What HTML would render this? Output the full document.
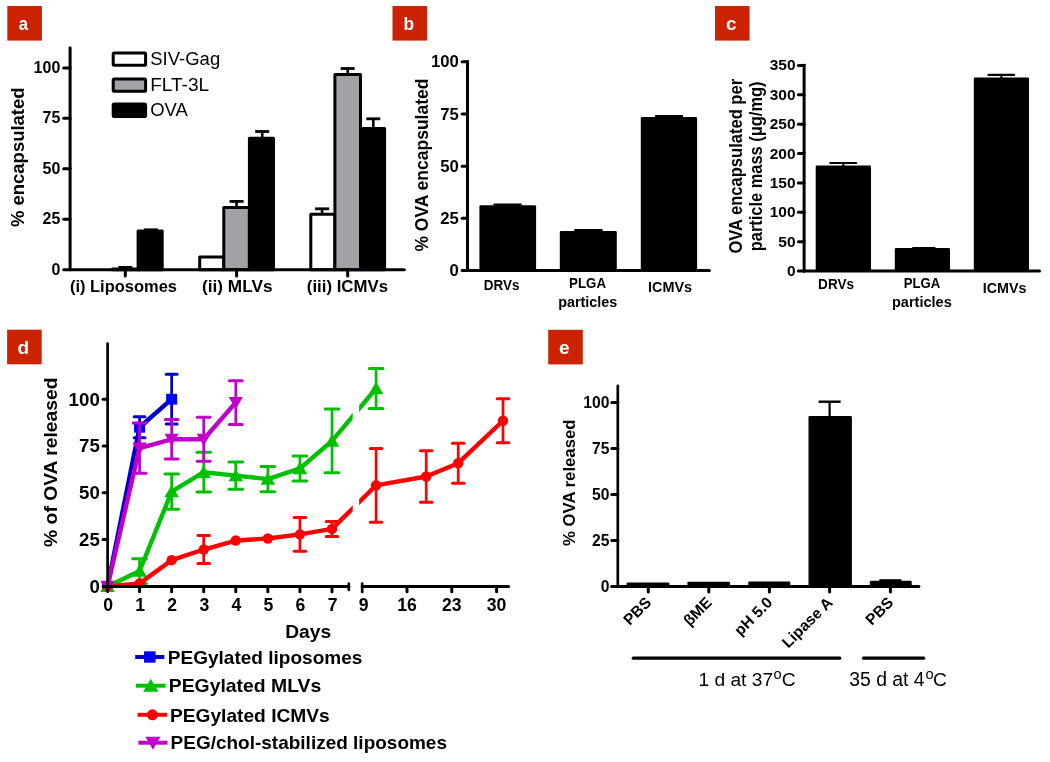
<!DOCTYPE html>
<html><head><meta charset="utf-8"><style>
html,body{margin:0;padding:0;background:#fff;}
svg{display:block;font-family:"Liberation Sans",sans-serif;will-change:transform;}
</style></head><body>
<svg width="1050" height="762" viewBox="0 0 1050 762">
<rect width="1050" height="762" fill="#fff"/>
<rect x="7.3" y="6" width="34.6" height="34.6" fill="#cd2200"/>
<text x="23.5" y="30" font-size="19" font-weight="bold" text-anchor="middle" textLength="9.3" lengthAdjust="spacingAndGlyphs" fill="#fff">a</text>
<rect x="392.5" y="6" width="34.6" height="34.6" fill="#cd2200"/>
<text x="408.7" y="30" font-size="19" font-weight="bold" text-anchor="middle" textLength="10.56" lengthAdjust="spacingAndGlyphs" fill="#fff">b</text>
<rect x="715" y="6" width="34.6" height="34.6" fill="#cd2200"/>
<text x="731.2" y="30" font-size="19" font-weight="bold" text-anchor="middle" textLength="10.56" lengthAdjust="spacingAndGlyphs" fill="#fff">c</text>
<rect x="7.1" y="329.7" width="34.6" height="34.6" fill="#cd2200"/>
<text x="23.3" y="353.7" font-size="19" font-weight="bold" text-anchor="middle" textLength="11.61" lengthAdjust="spacingAndGlyphs" fill="#fff">d</text>
<rect x="548.2" y="329.8" width="34.6" height="34.6" fill="#cd2200"/>
<text x="564.4" y="353.8" font-size="19" font-weight="bold" text-anchor="middle" textLength="10.56" lengthAdjust="spacingAndGlyphs" fill="#fff">e</text>
<rect x="88.4" y="269.7" width="24.1" height="0" fill="#fff" stroke="#000" stroke-width="3" stroke-linejoin="round"/>
<line x1="125.3" y1="267.4" x2="125.3" y2="269.4" stroke="#000" stroke-width="2.6" stroke-linecap="butt"/>
<line x1="118.3" y1="267.4" x2="132.3" y2="267.4" stroke="#000" stroke-width="2.8" stroke-linecap="butt"/>
<rect x="112.5" y="268.9" width="25.6" height="0.8" fill="#a2a2a6" stroke="#000" stroke-width="3" stroke-linejoin="round"/>
<line x1="150.9" y1="229.8" x2="150.9" y2="231.4" stroke="#000" stroke-width="2.6" stroke-linecap="butt"/>
<line x1="143.9" y1="229.8" x2="157.9" y2="229.8" stroke="#000" stroke-width="2.8" stroke-linecap="butt"/>
<rect x="138.1" y="230.9" width="24.1" height="38.8" fill="#000" stroke="#000" stroke-width="3" stroke-linejoin="round"/>
<rect x="199.7" y="256.9" width="24.1" height="12.8" fill="#fff" stroke="#000" stroke-width="3" stroke-linejoin="round"/>
<line x1="236.6" y1="201.4" x2="236.6" y2="208.1" stroke="#000" stroke-width="2.6" stroke-linecap="butt"/>
<line x1="229.6" y1="201.4" x2="243.6" y2="201.4" stroke="#000" stroke-width="2.8" stroke-linecap="butt"/>
<rect x="223.8" y="207.6" width="25.6" height="62.1" fill="#a2a2a6" stroke="#000" stroke-width="3" stroke-linejoin="round"/>
<line x1="262.2" y1="131.5" x2="262.2" y2="138.8" stroke="#000" stroke-width="2.6" stroke-linecap="butt"/>
<line x1="255.2" y1="131.5" x2="269.2" y2="131.5" stroke="#000" stroke-width="2.8" stroke-linecap="butt"/>
<rect x="249.4" y="138.3" width="24.1" height="131.4" fill="#000" stroke="#000" stroke-width="3" stroke-linejoin="round"/>
<line x1="322.1" y1="208.8" x2="322.1" y2="214.8" stroke="#000" stroke-width="2.6" stroke-linecap="butt"/>
<line x1="315.1" y1="208.8" x2="329.1" y2="208.8" stroke="#000" stroke-width="2.8" stroke-linecap="butt"/>
<rect x="310.8" y="214.3" width="24.1" height="55.4" fill="#fff" stroke="#000" stroke-width="3" stroke-linejoin="round"/>
<line x1="347.7" y1="68.5" x2="347.7" y2="75.1" stroke="#000" stroke-width="2.6" stroke-linecap="butt"/>
<line x1="340.7" y1="68.5" x2="354.7" y2="68.5" stroke="#000" stroke-width="2.8" stroke-linecap="butt"/>
<rect x="334.9" y="74.6" width="25.6" height="195.1" fill="#a2a2a6" stroke="#000" stroke-width="3" stroke-linejoin="round"/>
<line x1="373.3" y1="118.8" x2="373.3" y2="128.9" stroke="#000" stroke-width="2.6" stroke-linecap="butt"/>
<line x1="366.3" y1="118.8" x2="380.3" y2="118.8" stroke="#000" stroke-width="2.8" stroke-linecap="butt"/>
<rect x="360.5" y="128.4" width="24.1" height="141.3" fill="#000" stroke="#000" stroke-width="3" stroke-linejoin="round"/>
<line x1="70.1" y1="47.8" x2="70.1" y2="269.7" stroke="#000" stroke-width="3" stroke-linecap="round"/>
<line x1="63.7" y1="269.7" x2="404.3" y2="269.7" stroke="#000" stroke-width="3" stroke-linecap="round"/>
<line x1="63.7" y1="219.25" x2="70.1" y2="219.25" stroke="#000" stroke-width="3" stroke-linecap="round"/>
<line x1="63.7" y1="168.8" x2="70.1" y2="168.8" stroke="#000" stroke-width="3" stroke-linecap="round"/>
<line x1="63.7" y1="118.35" x2="70.1" y2="118.35" stroke="#000" stroke-width="3" stroke-linecap="round"/>
<line x1="63.7" y1="67.9" x2="70.1" y2="67.9" stroke="#000" stroke-width="3" stroke-linecap="round"/>
<line x1="125.3" y1="269.7" x2="125.3" y2="275.9" stroke="#000" stroke-width="3" stroke-linecap="round"/>
<line x1="236.6" y1="269.7" x2="236.6" y2="275.9" stroke="#000" stroke-width="3" stroke-linecap="round"/>
<line x1="347.7" y1="269.7" x2="347.7" y2="275.9" stroke="#000" stroke-width="3" stroke-linecap="round"/>
<text x="60.3" y="274.5" font-size="17" font-weight="bold" text-anchor="end" textLength="8.9" lengthAdjust="spacingAndGlyphs">0</text>
<text x="60.3" y="224.05" font-size="17" font-weight="bold" text-anchor="end" textLength="17.8" lengthAdjust="spacingAndGlyphs">25</text>
<text x="60.3" y="173.6" font-size="17" font-weight="bold" text-anchor="end" textLength="17.8" lengthAdjust="spacingAndGlyphs">50</text>
<text x="60.3" y="123.15" font-size="17" font-weight="bold" text-anchor="end" textLength="17.8" lengthAdjust="spacingAndGlyphs">75</text>
<text x="60.3" y="72.7" font-size="17" font-weight="bold" text-anchor="end" textLength="26.7" lengthAdjust="spacingAndGlyphs">100</text>
<text x="69.9" y="292" font-size="16.3" font-weight="bold" textLength="107.1" lengthAdjust="spacingAndGlyphs">(i) Liposomes</text>
<text x="202" y="292" font-size="16.3" font-weight="bold" textLength="70.5" lengthAdjust="spacingAndGlyphs">(ii) MLVs</text>
<text x="306.8" y="292" font-size="16.3" font-weight="bold" textLength="81.2" lengthAdjust="spacingAndGlyphs">(iii) ICMVs</text>
<text x="23.8" y="227" font-size="19" font-weight="bold" textLength="139.5" lengthAdjust="spacingAndGlyphs" transform="rotate(-90 23.8 227)">% encapsulated</text>
<rect x="113.2" y="52.9" width="32.4" height="12.3" fill="#fff" stroke="#000" stroke-width="3" rx="1"/>
<text x="150.2" y="65" font-size="18" textLength="70" lengthAdjust="spacingAndGlyphs">SIV-Gag</text>
<rect x="113.2" y="78.9" width="32.4" height="12.3" fill="#a2a2a6" stroke="#000" stroke-width="3" rx="1"/>
<text x="150.2" y="91" font-size="18" textLength="59" lengthAdjust="spacingAndGlyphs">FLT-3L</text>
<rect x="113.2" y="104.1" width="32.4" height="12.3" fill="#000" stroke="#000" stroke-width="3" rx="1"/>
<text x="150.2" y="116.2" font-size="18" textLength="37.6" lengthAdjust="spacingAndGlyphs">OVA</text>
<line x1="494.5" y1="204.6" x2="520.7" y2="204.6" stroke="#000" stroke-width="2.2" stroke-linecap="round"/>
<line x1="507.75" y1="204.6" x2="507.75" y2="207.2" stroke="#000" stroke-width="2" stroke-linecap="butt"/>
<rect x="479.4" y="205.2" width="56.7" height="65.3" fill="#000" rx="1.2"/>
<line x1="575.1" y1="230.1" x2="601.7" y2="230.1" stroke="#000" stroke-width="2.2" stroke-linecap="round"/>
<line x1="588.3" y1="230.1" x2="588.3" y2="233.1" stroke="#000" stroke-width="2" stroke-linecap="butt"/>
<rect x="559.8" y="231.1" width="57" height="39.4" fill="#000" rx="1.2"/>
<line x1="655.9" y1="116.1" x2="682.2" y2="116.1" stroke="#000" stroke-width="2.2" stroke-linecap="round"/>
<line x1="668.95" y1="116.1" x2="668.95" y2="119.1" stroke="#000" stroke-width="2" stroke-linecap="butt"/>
<rect x="640.8" y="117.1" width="56.3" height="153.4" fill="#000" rx="1.2"/>
<line x1="467.5" y1="61.8" x2="467.5" y2="270.5" stroke="#000" stroke-width="3" stroke-linecap="square"/>
<line x1="462.1" y1="270.5" x2="709.4" y2="270.5" stroke="#000" stroke-width="3" stroke-linecap="round"/>
<line x1="462.1" y1="218.32" x2="467.5" y2="218.32" stroke="#000" stroke-width="3" stroke-linecap="round"/>
<line x1="462.1" y1="166.15" x2="467.5" y2="166.15" stroke="#000" stroke-width="3" stroke-linecap="round"/>
<line x1="462.1" y1="113.98" x2="467.5" y2="113.98" stroke="#000" stroke-width="3" stroke-linecap="round"/>
<line x1="462.1" y1="61.8" x2="467.5" y2="61.8" stroke="#000" stroke-width="3" stroke-linecap="round"/>
<text x="458.8" y="276.1" font-size="17.3" font-weight="bold" text-anchor="end" textLength="9.3" lengthAdjust="spacingAndGlyphs">0</text>
<text x="458.8" y="223.92" font-size="17.3" font-weight="bold" text-anchor="end" textLength="18.6" lengthAdjust="spacingAndGlyphs">25</text>
<text x="458.8" y="171.75" font-size="17.3" font-weight="bold" text-anchor="end" textLength="18.6" lengthAdjust="spacingAndGlyphs">50</text>
<text x="458.8" y="119.58" font-size="17.3" font-weight="bold" text-anchor="end" textLength="18.6" lengthAdjust="spacingAndGlyphs">75</text>
<text x="458.8" y="67.4" font-size="17.3" font-weight="bold" text-anchor="end" textLength="27.9" lengthAdjust="spacingAndGlyphs">100</text>
<text x="483.8" y="289.6" font-size="15.4" font-weight="bold" textLength="35.6" lengthAdjust="spacingAndGlyphs">DRVs</text>
<text x="569.1" y="287.7" font-size="15.4" font-weight="bold" textLength="36.9" lengthAdjust="spacingAndGlyphs">PLGA</text>
<text x="558.2" y="307" font-size="15.4" font-weight="bold" textLength="59.1" lengthAdjust="spacingAndGlyphs">particles</text>
<text x="648.1" y="292.3" font-size="15.4" font-weight="bold" textLength="44" lengthAdjust="spacingAndGlyphs">ICMVs</text>
<text x="428.4" y="251.6" font-size="18.5" font-weight="bold" textLength="173" lengthAdjust="spacingAndGlyphs" transform="rotate(-90 428.4 251.6)">% OVA encapsulated</text>
<line x1="830.3" y1="163" x2="856.2" y2="163" stroke="#000" stroke-width="2.2" stroke-linecap="round"/>
<line x1="843.35" y1="163" x2="843.35" y2="167.5" stroke="#000" stroke-width="2" stroke-linecap="butt"/>
<rect x="815.7" y="165.5" width="55.3" height="105.6" fill="#000" rx="1.2"/>
<line x1="913.1" y1="248.1" x2="934.6" y2="248.1" stroke="#000" stroke-width="2.2" stroke-linecap="round"/>
<line x1="922.4" y1="248.1" x2="922.4" y2="250.1" stroke="#000" stroke-width="2" stroke-linecap="butt"/>
<rect x="894.8" y="248.1" width="55.2" height="23" fill="#000" rx="1.2"/>
<line x1="988.5" y1="74.9" x2="1014.1" y2="74.9" stroke="#000" stroke-width="2.2" stroke-linecap="round"/>
<line x1="1001.4" y1="74.9" x2="1001.4" y2="79.4" stroke="#000" stroke-width="2" stroke-linecap="butt"/>
<rect x="973.8" y="77.4" width="55.2" height="193.7" fill="#000" rx="1.2"/>
<line x1="804.1" y1="65.4" x2="804.1" y2="271.1" stroke="#000" stroke-width="3" stroke-linecap="square"/>
<line x1="798.4" y1="271.1" x2="1039.5" y2="271.1" stroke="#000" stroke-width="3" stroke-linecap="round"/>
<line x1="798.4" y1="241.71" x2="804.1" y2="241.71" stroke="#000" stroke-width="3" stroke-linecap="round"/>
<line x1="798.4" y1="212.33" x2="804.1" y2="212.33" stroke="#000" stroke-width="3" stroke-linecap="round"/>
<line x1="798.4" y1="182.94" x2="804.1" y2="182.94" stroke="#000" stroke-width="3" stroke-linecap="round"/>
<line x1="798.4" y1="153.56" x2="804.1" y2="153.56" stroke="#000" stroke-width="3" stroke-linecap="round"/>
<line x1="798.4" y1="124.17" x2="804.1" y2="124.17" stroke="#000" stroke-width="3" stroke-linecap="round"/>
<line x1="798.4" y1="94.79" x2="804.1" y2="94.79" stroke="#000" stroke-width="3" stroke-linecap="round"/>
<line x1="798.4" y1="65.4" x2="804.1" y2="65.4" stroke="#000" stroke-width="3" stroke-linecap="round"/>
<text x="795.5" y="276.1" font-size="15.3" font-weight="bold" text-anchor="end" textLength="8.6" lengthAdjust="spacingAndGlyphs">0</text>
<text x="795.5" y="246.71" font-size="15.3" font-weight="bold" text-anchor="end" textLength="17.2" lengthAdjust="spacingAndGlyphs">50</text>
<text x="795.5" y="217.33" font-size="15.3" font-weight="bold" text-anchor="end" textLength="25.8" lengthAdjust="spacingAndGlyphs">100</text>
<text x="795.5" y="187.94" font-size="15.3" font-weight="bold" text-anchor="end" textLength="25.8" lengthAdjust="spacingAndGlyphs">150</text>
<text x="795.5" y="158.56" font-size="15.3" font-weight="bold" text-anchor="end" textLength="25.8" lengthAdjust="spacingAndGlyphs">200</text>
<text x="795.5" y="129.17" font-size="15.3" font-weight="bold" text-anchor="end" textLength="25.8" lengthAdjust="spacingAndGlyphs">250</text>
<text x="795.5" y="99.79" font-size="15.3" font-weight="bold" text-anchor="end" textLength="25.8" lengthAdjust="spacingAndGlyphs">300</text>
<text x="795.5" y="70.4" font-size="15.3" font-weight="bold" text-anchor="end" textLength="25.8" lengthAdjust="spacingAndGlyphs">350</text>
<text x="818.1" y="289.3" font-size="15.4" font-weight="bold" textLength="35.9" lengthAdjust="spacingAndGlyphs">DRVs</text>
<text x="903.7" y="288.1" font-size="15.4" font-weight="bold" textLength="36.6" lengthAdjust="spacingAndGlyphs">PLGA</text>
<text x="891.9" y="307.1" font-size="15.4" font-weight="bold" textLength="59.9" lengthAdjust="spacingAndGlyphs">particles</text>
<text x="982.7" y="292.9" font-size="15.4" font-weight="bold" textLength="43.8" lengthAdjust="spacingAndGlyphs">ICMVs</text>
<text x="741.6" y="253.6" font-size="17.5" font-weight="bold" textLength="174.7" lengthAdjust="spacingAndGlyphs" transform="rotate(-90 741.6 253.6)">OVA encapsulated per</text>
<text x="761.6" y="251.2" font-size="17.5" font-weight="bold" textLength="169.7" lengthAdjust="spacingAndGlyphs" transform="rotate(-90 761.6 251.2)">particle mass (&#956;g/mg)</text>
<defs><clipPath id="gapclip"><rect x="0" y="300" width="352.7" height="400"/><rect x="359.1" y="300" width="300" height="400"/></clipPath></defs>
<line x1="139.57" y1="416.8" x2="139.57" y2="437.76" stroke="#0000c8" stroke-width="2.7" stroke-linecap="butt"/>
<line x1="134.17" y1="416.8" x2="144.97" y2="416.8" stroke="#0000c8" stroke-width="3" stroke-linecap="round"/>
<line x1="134.17" y1="437.76" x2="144.97" y2="437.76" stroke="#0000c8" stroke-width="3" stroke-linecap="round"/>
<line x1="171.64" y1="374.3" x2="171.64" y2="424.1" stroke="#0000c8" stroke-width="2.7" stroke-linecap="butt"/>
<line x1="166.24" y1="374.3" x2="177.04" y2="374.3" stroke="#0000c8" stroke-width="3" stroke-linecap="round"/>
<line x1="166.24" y1="424.1" x2="177.04" y2="424.1" stroke="#0000c8" stroke-width="3" stroke-linecap="round"/>
<polyline points="107.5,586.4 139.57,427.28 171.64,399.2" fill="none" stroke="#0000c8" stroke-width="4.4" stroke-linejoin="round" clip-path="url(#gapclip)"/>
<rect x="102" y="581" width="11" height="10.8" fill="#0000ff"/>
<rect x="134.07" y="421.88" width="11" height="10.8" fill="#0000ff"/>
<rect x="166.14" y="393.8" width="11" height="10.8" fill="#0000ff"/>
<line x1="139.57" y1="558.69" x2="139.57" y2="583.4" stroke="#00c000" stroke-width="2.7" stroke-linecap="butt"/>
<line x1="132.77" y1="558.69" x2="146.37" y2="558.69" stroke="#00c000" stroke-width="3" stroke-linecap="round"/>
<line x1="132.77" y1="583.4" x2="146.37" y2="583.4" stroke="#00c000" stroke-width="3" stroke-linecap="round"/>
<line x1="171.64" y1="474.08" x2="171.64" y2="509.27" stroke="#00c000" stroke-width="2.7" stroke-linecap="butt"/>
<line x1="164.84" y1="474.08" x2="178.44" y2="474.08" stroke="#00c000" stroke-width="3" stroke-linecap="round"/>
<line x1="164.84" y1="509.27" x2="178.44" y2="509.27" stroke="#00c000" stroke-width="3" stroke-linecap="round"/>
<line x1="203.71" y1="452.36" x2="203.71" y2="492.05" stroke="#00c000" stroke-width="2.7" stroke-linecap="butt"/>
<line x1="196.91" y1="452.36" x2="210.51" y2="452.36" stroke="#00c000" stroke-width="3" stroke-linecap="round"/>
<line x1="196.91" y1="492.05" x2="210.51" y2="492.05" stroke="#00c000" stroke-width="3" stroke-linecap="round"/>
<line x1="235.78" y1="461.91" x2="235.78" y2="489.24" stroke="#00c000" stroke-width="2.7" stroke-linecap="butt"/>
<line x1="228.98" y1="461.91" x2="242.58" y2="461.91" stroke="#00c000" stroke-width="3" stroke-linecap="round"/>
<line x1="228.98" y1="489.24" x2="242.58" y2="489.24" stroke="#00c000" stroke-width="3" stroke-linecap="round"/>
<line x1="267.85" y1="466.4" x2="267.85" y2="491.86" stroke="#00c000" stroke-width="2.7" stroke-linecap="butt"/>
<line x1="261.05" y1="466.4" x2="274.65" y2="466.4" stroke="#00c000" stroke-width="3" stroke-linecap="round"/>
<line x1="261.05" y1="491.86" x2="274.65" y2="491.86" stroke="#00c000" stroke-width="3" stroke-linecap="round"/>
<line x1="299.92" y1="455.92" x2="299.92" y2="481.01" stroke="#00c000" stroke-width="2.7" stroke-linecap="butt"/>
<line x1="293.12" y1="455.92" x2="306.72" y2="455.92" stroke="#00c000" stroke-width="3" stroke-linecap="round"/>
<line x1="293.12" y1="481.01" x2="306.72" y2="481.01" stroke="#00c000" stroke-width="3" stroke-linecap="round"/>
<line x1="331.99" y1="409.12" x2="331.99" y2="472.77" stroke="#00c000" stroke-width="2.7" stroke-linecap="butt"/>
<line x1="325.19" y1="409.12" x2="338.79" y2="409.12" stroke="#00c000" stroke-width="3" stroke-linecap="round"/>
<line x1="325.19" y1="472.77" x2="338.79" y2="472.77" stroke="#00c000" stroke-width="3" stroke-linecap="round"/>
<line x1="376.09" y1="368.5" x2="376.09" y2="408.56" stroke="#00c000" stroke-width="2.7" stroke-linecap="butt"/>
<line x1="369.29" y1="368.5" x2="382.89" y2="368.5" stroke="#00c000" stroke-width="3" stroke-linecap="round"/>
<line x1="369.29" y1="408.56" x2="382.89" y2="408.56" stroke="#00c000" stroke-width="3" stroke-linecap="round"/>
<polyline points="107.5,586.4 139.57,571.05 171.64,491.68 203.71,472.21 235.78,475.58 267.85,479.13 299.92,468.46 331.99,440.95 376.09,388.53" fill="none" stroke="#00c000" stroke-width="4.4" stroke-linejoin="round" clip-path="url(#gapclip)"/>
<polygon points="107.5,579.7 114.8,592.1 100.2,592.1" fill="#00c000"/>
<polygon points="139.57,564.35 146.87,576.74 132.27,576.74" fill="#00c000"/>
<polygon points="171.64,484.98 178.94,497.37 164.34,497.37" fill="#00c000"/>
<polygon points="203.71,465.51 211.01,477.9 196.41,477.9" fill="#00c000"/>
<polygon points="235.78,468.88 243.08,481.27 228.48,481.27" fill="#00c000"/>
<polygon points="267.85,472.43 275.15,484.83 260.55,484.83" fill="#00c000"/>
<polygon points="299.92,461.76 307.22,474.16 292.62,474.16" fill="#00c000"/>
<polygon points="331.99,434.25 339.29,446.64 324.69,446.64" fill="#00c000"/>
<polygon points="376.09,381.83 383.39,394.22 368.79,394.22" fill="#00c000"/>
<line x1="203.71" y1="535.48" x2="203.71" y2="563.56" stroke="#ff0000" stroke-width="2.7" stroke-linecap="butt"/>
<line x1="197.96" y1="535.48" x2="209.46" y2="535.48" stroke="#ff0000" stroke-width="3" stroke-linecap="round"/>
<line x1="197.96" y1="563.56" x2="209.46" y2="563.56" stroke="#ff0000" stroke-width="3" stroke-linecap="round"/>
<line x1="299.92" y1="517.51" x2="299.92" y2="551.21" stroke="#ff0000" stroke-width="2.7" stroke-linecap="butt"/>
<line x1="294.17" y1="517.51" x2="305.67" y2="517.51" stroke="#ff0000" stroke-width="3" stroke-linecap="round"/>
<line x1="294.17" y1="551.21" x2="305.67" y2="551.21" stroke="#ff0000" stroke-width="3" stroke-linecap="round"/>
<line x1="331.99" y1="521.44" x2="331.99" y2="536.42" stroke="#ff0000" stroke-width="2.7" stroke-linecap="butt"/>
<line x1="326.24" y1="521.44" x2="337.74" y2="521.44" stroke="#ff0000" stroke-width="3" stroke-linecap="round"/>
<line x1="326.24" y1="536.42" x2="337.74" y2="536.42" stroke="#ff0000" stroke-width="3" stroke-linecap="round"/>
<line x1="376.09" y1="448.43" x2="376.09" y2="522.19" stroke="#ff0000" stroke-width="2.7" stroke-linecap="butt"/>
<line x1="370.34" y1="448.43" x2="381.84" y2="448.43" stroke="#ff0000" stroke-width="3" stroke-linecap="round"/>
<line x1="370.34" y1="522.19" x2="381.84" y2="522.19" stroke="#ff0000" stroke-width="3" stroke-linecap="round"/>
<line x1="426.2" y1="450.87" x2="426.2" y2="502.16" stroke="#ff0000" stroke-width="2.7" stroke-linecap="butt"/>
<line x1="420.45" y1="450.87" x2="431.95" y2="450.87" stroke="#ff0000" stroke-width="3" stroke-linecap="round"/>
<line x1="420.45" y1="502.16" x2="431.95" y2="502.16" stroke="#ff0000" stroke-width="3" stroke-linecap="round"/>
<line x1="458.2" y1="443.19" x2="458.2" y2="483.25" stroke="#ff0000" stroke-width="2.7" stroke-linecap="butt"/>
<line x1="452.45" y1="443.19" x2="463.95" y2="443.19" stroke="#ff0000" stroke-width="3" stroke-linecap="round"/>
<line x1="452.45" y1="483.25" x2="463.95" y2="483.25" stroke="#ff0000" stroke-width="3" stroke-linecap="round"/>
<line x1="503" y1="398.64" x2="503" y2="442.82" stroke="#ff0000" stroke-width="2.7" stroke-linecap="butt"/>
<line x1="497.25" y1="398.64" x2="508.75" y2="398.64" stroke="#ff0000" stroke-width="3" stroke-linecap="round"/>
<line x1="497.25" y1="442.82" x2="508.75" y2="442.82" stroke="#ff0000" stroke-width="3" stroke-linecap="round"/>
<polyline points="107.5,586.4 139.57,583.4 171.64,560.19 203.71,549.52 235.78,540.54 267.85,538.48 299.92,534.36 331.99,528.93 376.09,485.31 426.2,476.51 458.2,463.22 503,420.73" fill="none" stroke="#ff0000" stroke-width="4.4" stroke-linejoin="round" clip-path="url(#gapclip)"/>
<circle cx="107.5" cy="586.4" r="5.2" fill="#ff0000"/>
<circle cx="139.57" cy="583.4" r="5.2" fill="#ff0000"/>
<circle cx="171.64" cy="560.19" r="5.2" fill="#ff0000"/>
<circle cx="203.71" cy="549.52" r="5.2" fill="#ff0000"/>
<circle cx="235.78" cy="540.54" r="5.2" fill="#ff0000"/>
<circle cx="267.85" cy="538.48" r="5.2" fill="#ff0000"/>
<circle cx="299.92" cy="534.36" r="5.2" fill="#ff0000"/>
<circle cx="331.99" cy="528.93" r="5.2" fill="#ff0000"/>
<circle cx="376.09" cy="485.31" r="5.2" fill="#ff0000"/>
<circle cx="426.2" cy="476.51" r="5.2" fill="#ff0000"/>
<circle cx="458.2" cy="463.22" r="5.2" fill="#ff0000"/>
<circle cx="503" cy="420.73" r="5.2" fill="#ff0000"/>
<line x1="139.57" y1="422.97" x2="139.57" y2="473.14" stroke="#c000c8" stroke-width="2.7" stroke-linecap="butt"/>
<line x1="133.17" y1="422.97" x2="145.97" y2="422.97" stroke="#c000c8" stroke-width="3" stroke-linecap="round"/>
<line x1="133.17" y1="473.14" x2="145.97" y2="473.14" stroke="#c000c8" stroke-width="3" stroke-linecap="round"/>
<line x1="171.64" y1="419.6" x2="171.64" y2="458.92" stroke="#c000c8" stroke-width="2.7" stroke-linecap="butt"/>
<line x1="165.24" y1="419.6" x2="178.04" y2="419.6" stroke="#c000c8" stroke-width="3" stroke-linecap="round"/>
<line x1="165.24" y1="458.92" x2="178.04" y2="458.92" stroke="#c000c8" stroke-width="3" stroke-linecap="round"/>
<line x1="203.71" y1="417.17" x2="203.71" y2="461.35" stroke="#c000c8" stroke-width="2.7" stroke-linecap="butt"/>
<line x1="197.31" y1="417.17" x2="210.11" y2="417.17" stroke="#c000c8" stroke-width="3" stroke-linecap="round"/>
<line x1="197.31" y1="461.35" x2="210.11" y2="461.35" stroke="#c000c8" stroke-width="3" stroke-linecap="round"/>
<line x1="235.78" y1="380.67" x2="235.78" y2="424.47" stroke="#c000c8" stroke-width="2.7" stroke-linecap="butt"/>
<line x1="229.38" y1="380.67" x2="242.18" y2="380.67" stroke="#c000c8" stroke-width="3" stroke-linecap="round"/>
<line x1="229.38" y1="424.47" x2="242.18" y2="424.47" stroke="#c000c8" stroke-width="3" stroke-linecap="round"/>
<polyline points="107.5,586.4 139.57,448.06 171.64,439.26 203.71,439.26 235.78,402.57" fill="none" stroke="#c000c8" stroke-width="4.4" stroke-linejoin="round" clip-path="url(#gapclip)"/>
<polygon points="100.4,580.79 114.6,580.79 107.5,593" fill="#c000c8"/>
<polygon points="132.47,442.45 146.67,442.45 139.57,454.66" fill="#c000c8"/>
<polygon points="164.54,433.65 178.74,433.65 171.64,445.86" fill="#c000c8"/>
<polygon points="196.61,433.65 210.81,433.65 203.71,445.86" fill="#c000c8"/>
<polygon points="228.68,396.96 242.88,396.96 235.78,409.17" fill="#c000c8"/>
<line x1="107.6" y1="343.6" x2="107.6" y2="591.8" stroke="#000" stroke-width="2.7" stroke-linecap="round"/>
<line x1="103.1" y1="586.4" x2="348.8" y2="586.4" stroke="#000" stroke-width="3" stroke-linecap="round"/>
<line x1="362.2" y1="586.4" x2="508.5" y2="586.4" stroke="#000" stroke-width="3" stroke-linecap="round"/>
<line x1="348.8" y1="583.6" x2="348.8" y2="589.9" stroke="#000" stroke-width="2.7" stroke-linecap="round"/>
<line x1="362.2" y1="583.6" x2="362.2" y2="592" stroke="#000" stroke-width="2.7" stroke-linecap="round"/>
<line x1="103.1" y1="539.6" x2="107.6" y2="539.6" stroke="#000" stroke-width="3" stroke-linecap="round"/>
<line x1="103.1" y1="492.8" x2="107.6" y2="492.8" stroke="#000" stroke-width="3" stroke-linecap="round"/>
<line x1="103.1" y1="446" x2="107.6" y2="446" stroke="#000" stroke-width="3" stroke-linecap="round"/>
<line x1="103.1" y1="399.2" x2="107.6" y2="399.2" stroke="#000" stroke-width="3" stroke-linecap="round"/>
<line x1="139.57" y1="586.4" x2="139.57" y2="591.8" stroke="#000" stroke-width="3" stroke-linecap="round"/>
<line x1="171.64" y1="586.4" x2="171.64" y2="591.8" stroke="#000" stroke-width="3" stroke-linecap="round"/>
<line x1="203.71" y1="586.4" x2="203.71" y2="591.8" stroke="#000" stroke-width="3" stroke-linecap="round"/>
<line x1="235.78" y1="586.4" x2="235.78" y2="591.8" stroke="#000" stroke-width="3" stroke-linecap="round"/>
<line x1="267.85" y1="586.4" x2="267.85" y2="591.8" stroke="#000" stroke-width="3" stroke-linecap="round"/>
<line x1="299.92" y1="586.4" x2="299.92" y2="591.8" stroke="#000" stroke-width="3" stroke-linecap="round"/>
<line x1="331.99" y1="586.4" x2="331.99" y2="591.8" stroke="#000" stroke-width="3" stroke-linecap="round"/>
<line x1="407" y1="586.4" x2="407" y2="591.8" stroke="#000" stroke-width="3" stroke-linecap="round"/>
<line x1="451.8" y1="586.4" x2="451.8" y2="591.8" stroke="#000" stroke-width="3" stroke-linecap="round"/>
<line x1="496.6" y1="586.4" x2="496.6" y2="591.8" stroke="#000" stroke-width="3" stroke-linecap="round"/>
<text x="99.8" y="592.8" font-size="18.4" font-weight="bold" text-anchor="end" textLength="10.4" lengthAdjust="spacingAndGlyphs">0</text>
<text x="99.8" y="546" font-size="18.4" font-weight="bold" text-anchor="end" textLength="20.8" lengthAdjust="spacingAndGlyphs">25</text>
<text x="99.8" y="499.2" font-size="18.4" font-weight="bold" text-anchor="end" textLength="20.8" lengthAdjust="spacingAndGlyphs">50</text>
<text x="99.8" y="452.4" font-size="18.4" font-weight="bold" text-anchor="end" textLength="20.8" lengthAdjust="spacingAndGlyphs">75</text>
<text x="99.8" y="405.6" font-size="18.4" font-weight="bold" text-anchor="end" textLength="31.2" lengthAdjust="spacingAndGlyphs">100</text>
<text x="108.1" y="611.3" font-size="17.5" font-weight="bold" text-anchor="middle" textLength="9.8" lengthAdjust="spacingAndGlyphs">0</text>
<text x="140.17" y="611.3" font-size="17.5" font-weight="bold" text-anchor="middle" textLength="9.8" lengthAdjust="spacingAndGlyphs">1</text>
<text x="172.24" y="611.3" font-size="17.5" font-weight="bold" text-anchor="middle" textLength="9.8" lengthAdjust="spacingAndGlyphs">2</text>
<text x="204.31" y="611.3" font-size="17.5" font-weight="bold" text-anchor="middle" textLength="9.8" lengthAdjust="spacingAndGlyphs">3</text>
<text x="236.38" y="611.3" font-size="17.5" font-weight="bold" text-anchor="middle" textLength="9.8" lengthAdjust="spacingAndGlyphs">4</text>
<text x="268.45" y="611.3" font-size="17.5" font-weight="bold" text-anchor="middle" textLength="9.8" lengthAdjust="spacingAndGlyphs">5</text>
<text x="300.52" y="611.3" font-size="17.5" font-weight="bold" text-anchor="middle" textLength="9.8" lengthAdjust="spacingAndGlyphs">6</text>
<text x="332.59" y="611.3" font-size="17.5" font-weight="bold" text-anchor="middle" textLength="9.8" lengthAdjust="spacingAndGlyphs">7</text>
<text x="363.7" y="611.3" font-size="17.5" font-weight="bold" text-anchor="middle" textLength="9.8" lengthAdjust="spacingAndGlyphs">9</text>
<text x="407" y="611.3" font-size="17.5" font-weight="bold" text-anchor="middle" textLength="19.6" lengthAdjust="spacingAndGlyphs">16</text>
<text x="451.8" y="611.3" font-size="17.5" font-weight="bold" text-anchor="middle" textLength="19.6" lengthAdjust="spacingAndGlyphs">23</text>
<text x="496.6" y="611.3" font-size="17.5" font-weight="bold" text-anchor="middle" textLength="19.6" lengthAdjust="spacingAndGlyphs">30</text>
<text x="285.2" y="637.6" font-size="18.8" font-weight="bold" textLength="46" lengthAdjust="spacingAndGlyphs">Days</text>
<text x="57" y="546.9" font-size="19" font-weight="bold" textLength="169.4" lengthAdjust="spacingAndGlyphs" transform="rotate(-90 57 546.9)">% of OVA released</text>
<line x1="135.2" y1="657" x2="164.4" y2="657" stroke="#0000c8" stroke-width="4" stroke-linecap="butt"/>
<rect x="144.03" y="651.33" width="11.55" height="11.34" fill="#0000ff"/>
<text x="167.8" y="664" font-size="17.8" font-weight="bold" textLength="194.6" lengthAdjust="spacingAndGlyphs">PEGylated liposomes</text>
<line x1="136" y1="685.7" x2="165.6" y2="685.7" stroke="#00c000" stroke-width="4" stroke-linecap="butt"/>
<polygon points="150.8,678.67 158.47,691.68 143.14,691.68" fill="#00c000"/>
<text x="168.8" y="692.3" font-size="17.8" font-weight="bold" textLength="152.4" lengthAdjust="spacingAndGlyphs">PEGylated MLVs</text>
<line x1="137.6" y1="714.8" x2="167.2" y2="714.8" stroke="#ff0000" stroke-width="4" stroke-linecap="butt"/>
<circle cx="152.4" cy="714.8" r="5.46" fill="#ff0000"/>
<text x="169.9" y="721.9" font-size="17.8" font-weight="bold" textLength="159.9" lengthAdjust="spacingAndGlyphs">PEGylated ICMVs</text>
<line x1="138.4" y1="742.7" x2="167.5" y2="742.7" stroke="#c000c8" stroke-width="4" stroke-linecap="butt"/>
<polygon points="145.49,736.81 160.41,736.81 152.95,749.63" fill="#c000c8"/>
<text x="170.6" y="749.4" font-size="17.8" font-weight="bold" textLength="276.4" lengthAdjust="spacingAndGlyphs">PEG/chol-stabilized liposomes</text>
<rect x="626.6" y="582.6" width="42.8" height="3.8" fill="#000" rx="1"/>
<rect x="687.4" y="581.8" width="42.6" height="4.6" fill="#000" rx="1"/>
<rect x="748.3" y="581.4" width="42" height="5" fill="#000" rx="1"/>
<line x1="829.6" y1="401.7" x2="829.6" y2="418.1" stroke="#000" stroke-width="2.2" stroke-linecap="butt"/>
<line x1="818.6" y1="401.7" x2="840.6" y2="401.7" stroke="#000" stroke-width="2.4" stroke-linecap="butt"/>
<rect x="808.5" y="416.1" width="43.4" height="170.3" fill="#000" rx="1"/>
<line x1="890.4" y1="580.4" x2="890.4" y2="582.8" stroke="#000" stroke-width="2.2" stroke-linecap="butt"/>
<line x1="879.4" y1="580.4" x2="901.4" y2="580.4" stroke="#000" stroke-width="2.4" stroke-linecap="butt"/>
<rect x="869.8" y="580.8" width="41.9" height="5.6" fill="#000" rx="1"/>
<line x1="617.8" y1="385.9" x2="617.8" y2="586.4" stroke="#000" stroke-width="2.7" stroke-linecap="round"/>
<line x1="611.6" y1="586.4" x2="918.9" y2="586.4" stroke="#000" stroke-width="3" stroke-linecap="round"/>
<line x1="611.8" y1="540.45" x2="617.8" y2="540.45" stroke="#000" stroke-width="3" stroke-linecap="round"/>
<line x1="611.8" y1="494.5" x2="617.8" y2="494.5" stroke="#000" stroke-width="3" stroke-linecap="round"/>
<line x1="611.8" y1="448.55" x2="617.8" y2="448.55" stroke="#000" stroke-width="3" stroke-linecap="round"/>
<line x1="611.8" y1="402.6" x2="617.8" y2="402.6" stroke="#000" stroke-width="3" stroke-linecap="round"/>
<line x1="648.3" y1="586.4" x2="648.3" y2="592" stroke="#000" stroke-width="3" stroke-linecap="round"/>
<line x1="708.8" y1="586.4" x2="708.8" y2="592" stroke="#000" stroke-width="3" stroke-linecap="round"/>
<line x1="769.4" y1="586.4" x2="769.4" y2="592" stroke="#000" stroke-width="3" stroke-linecap="round"/>
<line x1="829.6" y1="586.4" x2="829.6" y2="592" stroke="#000" stroke-width="3" stroke-linecap="round"/>
<line x1="890.4" y1="586.4" x2="890.4" y2="592" stroke="#000" stroke-width="3" stroke-linecap="round"/>
<text x="609.4" y="592" font-size="16" font-weight="bold" text-anchor="end" textLength="8.7" lengthAdjust="spacingAndGlyphs">0</text>
<text x="609.4" y="546.05" font-size="16" font-weight="bold" text-anchor="end" textLength="17.4" lengthAdjust="spacingAndGlyphs">25</text>
<text x="609.4" y="500.1" font-size="16" font-weight="bold" text-anchor="end" textLength="17.4" lengthAdjust="spacingAndGlyphs">50</text>
<text x="609.4" y="454.15" font-size="16" font-weight="bold" text-anchor="end" textLength="17.4" lengthAdjust="spacingAndGlyphs">75</text>
<text x="609.4" y="408.2" font-size="16" font-weight="bold" text-anchor="end" textLength="26.1" lengthAdjust="spacingAndGlyphs">100</text>
<text x="574.7" y="546" font-size="16.8" font-weight="bold" textLength="126.5" lengthAdjust="spacingAndGlyphs" transform="rotate(-90 574.7 546)">% OVA released</text>
<text x="652.3" y="603.5" font-size="15.5" font-weight="bold" text-anchor="end" transform="rotate(-45 652.3 603.5)">PBS</text>
<text x="712.8" y="603.5" font-size="15.5" font-weight="bold" text-anchor="end" transform="rotate(-45 712.8 603.5)">&#946;ME</text>
<text x="773.4" y="603.5" font-size="15.5" font-weight="bold" text-anchor="end" transform="rotate(-45 773.4 603.5)">pH 5.0</text>
<text x="833.6" y="603.5" font-size="15.5" font-weight="bold" text-anchor="end" transform="rotate(-45 833.6 603.5)">Lipase A</text>
<text x="894.4" y="603.5" font-size="15.5" font-weight="bold" text-anchor="end" transform="rotate(-45 894.4 603.5)">PBS</text>
<line x1="633.3" y1="658.2" x2="839.8" y2="658.2" stroke="#000" stroke-width="3.2" stroke-linecap="round"/>
<line x1="863.5" y1="658.2" x2="923.7" y2="658.2" stroke="#000" stroke-width="3.2" stroke-linecap="round"/>
<text x="698.4" y="686" font-size="19.2">1 d at 37</text>
<text x="773.4" y="679.3" font-size="14.7">o</text>
<text x="781.7" y="686" font-size="19.2">C</text>
<text x="849.2" y="685.6" font-size="19.4">35 d at 4</text>
<text x="925.6" y="679.3" font-size="14.7">o</text>
<text x="932.9" y="685.6" font-size="19.2">C</text>
</svg>
</body></html>
